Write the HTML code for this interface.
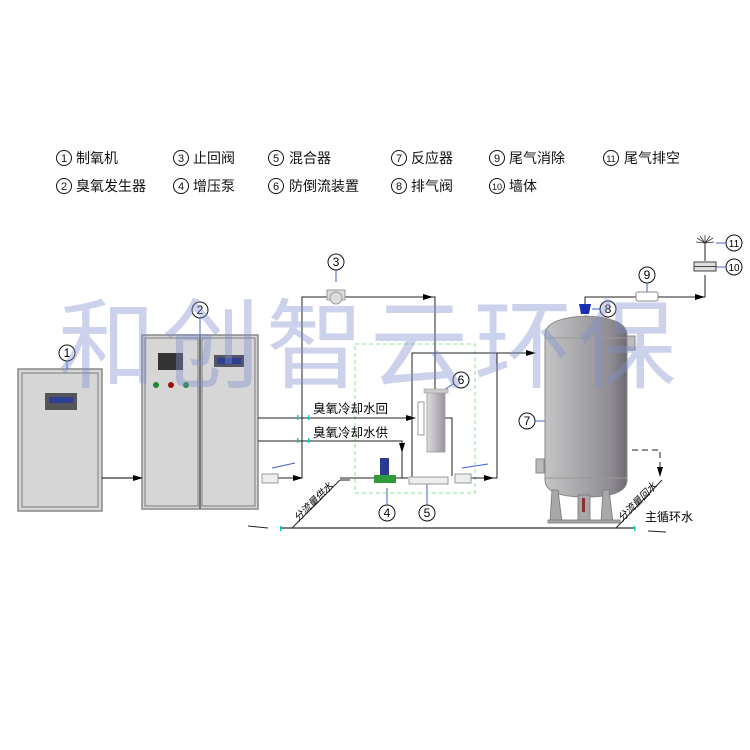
<!DOCTYPE html>
<html><head><meta charset="utf-8"><style>
html,body{margin:0;padding:0;background:#fff;}
svg{display:block;font-family:"Liberation Sans","Noto Sans CJK SC",sans-serif;}
</style></head><body>
<svg width="750" height="750" viewBox="0 0 750 750" xmlns="http://www.w3.org/2000/svg">
<defs>
<marker id="ar" markerWidth="10" markerHeight="6" refX="9" refY="3" orient="auto" markerUnits="userSpaceOnUse"><path d="M0,0 L10,3 L0,6 z" fill="#000"/></marker>
<linearGradient id="tk" x1="0" x2="1"><stop offset="0" stop-color="#c4c4c6"/><stop offset="0.3" stop-color="#b0b0b2"/><stop offset="0.8" stop-color="#8e8c92"/><stop offset="1" stop-color="#6e6a72"/></linearGradient>
<linearGradient id="cy" x1="0" x2="1"><stop offset="0" stop-color="#ddd"/><stop offset="0.5" stop-color="#bdb6c0"/><stop offset="1" stop-color="#9a95a0"/></linearGradient>
</defs>
<g font-size="14" fill="#111">
<g fill="none" stroke="#111" stroke-width="1"><circle cx="64" cy="158" r="7.5"/><circle cx="181" cy="158" r="7.5"/><circle cx="276" cy="158" r="7.5"/><circle cx="399" cy="158" r="7.5"/><circle cx="497" cy="158" r="7.5"/><circle cx="611" cy="158" r="7.5"/>
<circle cx="64" cy="186" r="7.5"/><circle cx="181" cy="186" r="7.5"/><circle cx="276" cy="186" r="7.5"/><circle cx="399" cy="186" r="7.5"/><circle cx="497" cy="186" r="7.5"/></g>
<g font-size="11" text-anchor="middle"><text x="64" y="162">1</text><text x="181" y="162">3</text><text x="276" y="162">5</text><text x="399" y="162">7</text><text x="497" y="162">9</text><text x="611" y="162" font-size="9">11</text>
<text x="64" y="190">2</text><text x="181" y="190">4</text><text x="276" y="190">6</text><text x="399" y="190">8</text><text x="497" y="190" font-size="9">10</text></g>
<text x="76" y="163">制氧机</text><text x="193" y="163">止回阀</text><text x="289" y="163">混合器</text><text x="411" y="163">反应器</text><text x="509" y="163">尾气消除</text><text x="624" y="163">尾气排空</text>
<text x="76" y="191">臭氧发生器</text><text x="193" y="191">增压泵</text><text x="289" y="191">防倒流装置</text><text x="411" y="191">排气阀</text><text x="509" y="191">墙体</text>
</g>
<!-- cabinets -->
<rect x="18" y="369" width="84" height="142" fill="#d6d6d6" stroke="#888" stroke-width="1.5"/>
<rect x="22" y="373" width="76" height="134" fill="none" stroke="#666" stroke-width="0.8"/>
<rect x="45" y="393" width="32" height="17" fill="#555"/><rect x="49" y="397" width="24" height="6" fill="#2c3f90"/>
<rect x="142" y="335" width="116" height="174" fill="#d6d6d6" stroke="#888" stroke-width="1.5"/>
<rect x="145" y="338" width="53" height="168" fill="none" stroke="#666" stroke-width="0.8"/>
<rect x="202" y="338" width="53" height="168" fill="none" stroke="#666" stroke-width="0.8"/>
<line x1="200" y1="335" x2="200" y2="509" stroke="#777" stroke-width="2"/>
<rect x="158" y="353" width="25" height="17" fill="#333"/>
<circle cx="156" cy="385" r="3" fill="#1a8a2a"/><circle cx="171" cy="385" r="3" fill="#a01010"/><circle cx="186" cy="385" r="3" fill="#1a8a2a"/>
<rect x="214" y="355" width="30" height="12" fill="#556"/><rect x="217" y="358" width="24" height="6" fill="#2c3f90"/>
<line x1="102" y1="478" x2="142" y2="478" stroke="#000" marker-end="url(#ar)"/>
<!-- labels -->
<g fill="none" stroke="#111"><circle cx="67" cy="353" r="8"/><circle cx="200" cy="310" r="8"/><circle cx="336" cy="262" r="8"/><circle cx="461" cy="380" r="8"/><circle cx="527" cy="421" r="8"/><circle cx="608" cy="309" r="8"/><circle cx="647" cy="275" r="8"/><circle cx="734" cy="267" r="8"/><circle cx="734" cy="243" r="8"/><circle cx="387" cy="513" r="8"/><circle cx="427" cy="513" r="8"/></g>
<g font-size="12" text-anchor="middle"><text x="67" y="357">1</text><text x="200" y="314">2</text><text x="336" y="266">3</text><text x="461" y="384">6</text><text x="527" y="425">7</text><text x="608" y="313">8</text><text x="647" y="279">9</text><text x="734" y="271" font-size="10">10</text><text x="734" y="247" font-size="10">11</text><text x="387" y="517">4</text><text x="427" y="517">5</text></g>
<g stroke="#3f5fd0" stroke-width="1"><line x1="67" y1="361" x2="67" y2="369"/><line x1="200" y1="318" x2="200" y2="335"/><line x1="336" y1="270" x2="336" y2="282"/><line x1="453" y1="384" x2="444" y2="390"/><line x1="535" y1="421" x2="545" y2="421"/><line x1="592" y1="309" x2="600" y2="309"/><line x1="647" y1="283" x2="647" y2="294"/><line x1="716" y1="267" x2="726" y2="267"/><line x1="716" y1="243" x2="726" y2="243"/><line x1="387" y1="505" x2="387" y2="488"/><line x1="427" y1="505" x2="427" y2="484"/>
<line x1="272" y1="468" x2="295" y2="463"/><line x1="462" y1="468" x2="488" y2="464"/></g>
<!-- green dashed box -->
<rect x="355" y="344" width="120" height="149" fill="none" stroke="#8ee08e" stroke-dasharray="4,3" stroke-width="1"/>
<!-- pipes -->
<g fill="none" stroke="#222" stroke-width="1">
<line x1="258" y1="418" x2="415" y2="418" marker-end="url(#ar)"/>
<polyline points="258,441 402,441 402,452" marker-end="url(#ar)"/>
<line x1="402" y1="452" x2="402" y2="478"/>
<polyline points="278,478 302,478 302,297 330,297"/>
<polyline points="342,297 435,297 435,390"/>
<polyline points="340,478 408,478"/>
<polyline points="412,477 412,353 535,353" marker-end="url(#ar)"/>
<polyline points="445,418 452,418 452,476"/>
<polyline points="470,478 497,478 497,353"/>
<line x1="288" y1="478" x2="302" y2="478" marker-end="url(#ar)"/>
<line x1="480" y1="478" x2="493" y2="478" marker-end="url(#ar)"/>
<polyline points="585,305 585,297 636,297"/>
<polyline points="658,297 705,297 705,275"/>
<line x1="690" y1="297" x2="704" y2="297" marker-end="url(#ar)"/>
<line x1="705" y1="261" x2="705" y2="243"/>
<line x1="420" y1="297" x2="432" y2="297" marker-end="url(#ar)"/>
<line x1="280" y1="528" x2="635" y2="528" stroke="#555" stroke-width="1.5"/>
<line x1="248" y1="526" x2="268" y2="528"/>
<line x1="648" y1="531" x2="666" y2="532"/>
<line x1="292" y1="528" x2="340" y2="480"/>
<polyline points="340,480 350,480"/>
<line x1="616" y1="528" x2="662" y2="480"/>
<polyline points="632,450 660,450 660,476" stroke-dasharray="6,4" marker-end="url(#ar)"/>
</g>
<g fill="#0cc"><rect x="297" y="415" width="1.5" height="5"/><rect x="308" y="415" width="1.5" height="5"/><rect x="297" y="438" width="1.5" height="5"/><rect x="308" y="438" width="1.5" height="5"/><rect x="280" y="526" width="1.5" height="5"/><rect x="634" y="526" width="1.5" height="5"/></g>
<text x="313" y="413" font-size="12.5">臭氧冷却水回</text>
<text x="313" y="437" font-size="12.5">臭氧冷却水供</text>
<text x="645" y="521" font-size="12">主循环水</text>
<text transform="translate(298,522) rotate(-45)" font-size="10" font-style="italic">分流量供水</text>
<text transform="translate(622,522) rotate(-45)" font-size="10" font-style="italic">分流量回水</text>
<!-- valves -->
<rect x="262" y="474" width="16" height="9" fill="#eee" stroke="#999"/>
<rect x="455" y="474" width="16" height="9" fill="#eee" stroke="#999"/>
<path d="M327,290 h18 v10 h-18z" fill="#ddd" stroke="#999"/><circle cx="336" cy="298" r="6" fill="#ddd" stroke="#999"/>
<!-- pump / mixer / reactor -->
<rect x="380" y="458" width="9" height="17" fill="#2b3b8f"/><rect x="374" y="475" width="22" height="8" fill="#2e9a3a"/>
<rect x="409" y="477" width="39" height="7" fill="#eee" stroke="#999"/>
<rect x="418" y="402" width="6" height="33" fill="none" stroke="#999"/>
<rect x="427" y="392" width="18" height="60" fill="url(#cy)" stroke="#999" stroke-width="0.8"/>
<rect x="424" y="389" width="24" height="4" fill="#ccc" stroke="#999" stroke-width="0.6"/>
<!-- tank -->
<rect x="536" y="459" width="8" height="14" fill="#bbb" stroke="#888"/>
<rect x="627" y="336" width="8" height="14" fill="#bbb" stroke="#888"/>
<path d="M545,335 Q545,318 586,316 Q627,318 627,335 V480 Q627,497 586,497 Q545,497 545,480 Z" fill="url(#tk)" stroke="#888"/>
<line x1="545" y1="338" x2="627" y2="338" stroke="#999"/><line x1="545" y1="478" x2="627" y2="478" stroke="#999"/>
<g fill="#a8a8aa" stroke="#777" stroke-width="0.8"><path d="M552,490 h6 l4,32 h-12z"/><path d="M603,490 h6 l4,32 h-12z"/><rect x="578" y="495" width="12" height="27"/><rect x="548" y="520" width="72" height="3"/></g>
<rect x="582" y="498" width="3" height="14" fill="#8a3030"/>
<path d="M579,304 h12 l-2,10 h-8z" fill="#1a2fb0"/>
<rect x="636" y="292" width="22" height="9" fill="#fff" stroke="#888" rx="2"/>
<rect x="694" y="262" width="22" height="9" fill="#ddd" stroke="#444"/><line x1="694" y1="266.5" x2="716" y2="266.5" stroke="#444"/>
<g stroke="#333" stroke-width="0.8"><line x1="705" y1="243" x2="697" y2="238"/><line x1="705" y1="243" x2="713" y2="238"/><line x1="705" y1="243" x2="705" y2="235"/><line x1="705" y1="243" x2="700" y2="236"/><line x1="705" y1="243" x2="710" y2="236"/><line x1="705" y1="243" x2="696" y2="242"/><line x1="705" y1="243" x2="714" y2="242"/></g>
<!-- watermark -->
<text x="370" y="380" font-size="98" fill="#7f8fcc" fill-opacity="0.4" text-anchor="middle" letter-spacing="6" font-family="'Noto Sans CJK SC',sans-serif" font-weight="400">和创智云环保</text>
</svg>
</body></html>
